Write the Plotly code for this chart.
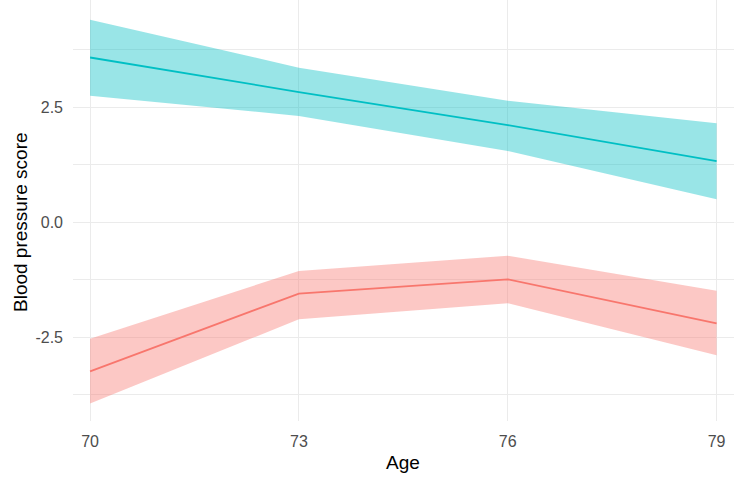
import plotly.graph_objects as go

ages = [70, 73, 76, 79]

blue_fit = [3.58, 2.83, 2.11, 1.33]
blue_upper = [4.40, 3.36, 2.64, 2.15]
blue_lower = [2.75, 2.31, 1.55, 0.50]

red_fit = [-3.24, -1.55, -1.24, -2.20]
red_upper = [-2.53, -1.06, -0.73, -1.49]
red_lower = [-3.94, -2.11, -1.76, -2.89]

x_ticks = [70, 73, 76, 79]
y_ticks = [-2.5, 0.0, 2.5]
y_tick_labels = ["-2.5", "0.0", "2.5"]

RED = "#F8766D"
BLUE = "#00BFC4"
RED_FILL = "rgba(248,118,109,0.4)"
BLUE_FILL = "rgba(0,191,196,0.4)"

fig = go.Figure()

for upper, lower, fill_col in [
    (red_upper, red_lower, RED_FILL),
    (blue_upper, blue_lower, BLUE_FILL),
]:
    fig.add_trace(go.Scatter(x=ages, y=upper, mode="lines",
                             line=dict(width=0, color=fill_col),
                             showlegend=False, hoverinfo="skip"))
    fig.add_trace(go.Scatter(x=ages, y=lower, mode="lines",
                             line=dict(width=0, color=fill_col),
                             fill="tonexty", fillcolor=fill_col,
                             showlegend=False, hoverinfo="skip"))

for fit, line_col in [(red_fit, RED), (blue_fit, BLUE)]:
    fig.add_trace(go.Scatter(x=ages, y=fit, mode="lines",
                             line=dict(width=1.8, color=line_col),
                             showlegend=False))

FONT = "Liberation Sans, Arial, sans-serif"

L, R, T, B = 73, 2, 0, 62
W, H = 736, 483
PW, PH = W - L - R, H - T - B


def px_x(p):
    return (p - L) / PW


def px_y(p):
    return (H - B - p) / PH


fig.update_layout(
    width=W, height=H,
    margin=dict(l=L, r=R, t=T, b=B, autoexpand=False),
    paper_bgcolor="white",
    plot_bgcolor="white",
    font=dict(family=FONT),
    xaxis=dict(
        range=[69.755, 79.25],
        tickvals=x_ticks,
        ticktext=[str(v) for v in x_ticks],
        tickfont=dict(size=16, color="#4D4D4D", family=FONT),
        ticks="", ticklabelstandoff=9,
        showgrid=True, gridcolor="#EBEBEB", gridwidth=1.2,
        zeroline=False, showline=False, automargin=False,
    ),
    yaxis=dict(
        range=[-4.32, 4.83],
        tickvals=y_ticks,
        ticktext=y_tick_labels,
        tickfont=dict(size=16, color="#4D4D4D", family=FONT),
        ticks="", ticklabelstandoff=9,
        showgrid=True, gridcolor="#EBEBEB", gridwidth=1.2,
        minor=dict(tickvals=[-3.75, -1.25, 1.25, 3.75], showgrid=True,
                   gridcolor="#EBEBEB", gridwidth=0.7),
        zeroline=False, showline=False, automargin=False,
    ),
    annotations=[
        dict(text="Age", xref="paper", yref="paper",
             x=px_x(403), y=px_y(463), xanchor="center", yanchor="middle",
             showarrow=False, font=dict(size=19, color="black", family=FONT)),
        dict(text="Blood pressure score", xref="paper", yref="paper",
             x=px_x(20), y=px_y(222), xanchor="center", yanchor="middle",
             textangle=-90, showarrow=False,
             font=dict(size=19, color="black", family=FONT)),
    ],
)

fig.write_html(
    "out.html",
    config={"displayModeBar": False},
    post_script="document.body.style.margin='0';document.body.style.overflow='hidden';",
)
